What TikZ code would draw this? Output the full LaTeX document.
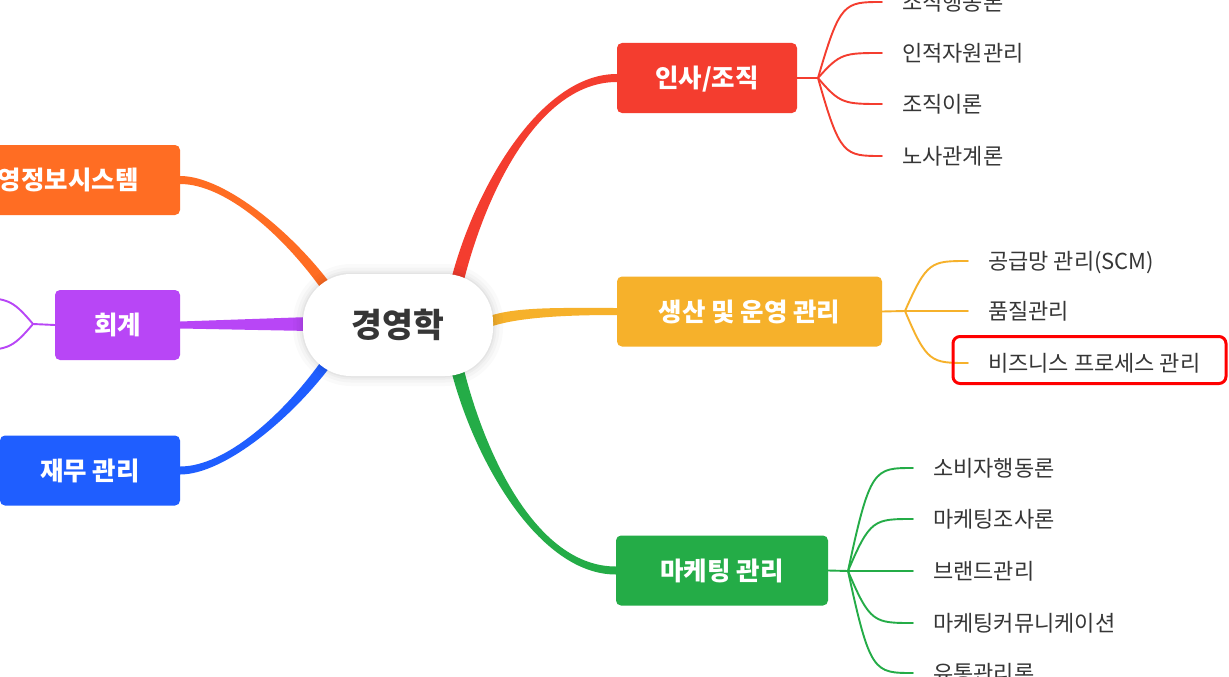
\documentclass[tikz,border=0pt]{standalone}
\usepackage{fontspec}
\setmainfont{Noto Sans CJK KR}
\pgfdeclarelayer{paper}
\pgfdeclarelayer{bg}
\pgfsetlayers{paper,bg,main}
\definecolor{cR}{HTML}{F43D2F}
\definecolor{cY}{HTML}{F6B12B}
\definecolor{cG}{HTML}{24AC47}
\definecolor{cO}{HTML}{FF6D23}
\definecolor{cP}{HTML}{B846F6}
\definecolor{cB}{HTML}{1F5EFF}
\definecolor{txt}{HTML}{363636}
\definecolor{hlred}{HTML}{FF0000}
\begin{document}
\begin{tikzpicture}[x=1pt,y=-1pt,
  box/.style={rounded corners=5pt, text=white, font=\bfseries\fontsize{25.5}{25.5}\selectfont,
    minimum height=70pt, inner sep=0pt, text height=20.4pt, text depth=1.2pt},
  leaf/.style={text=txt, font=\fontsize{22}{22}\selectfont, inner xsep=20pt, inner ysep=0pt,
    anchor=west, text height=17.6pt, text depth=1pt},
  twig/.style={line width=1.9pt, line cap=round},
  glow/.style={preaction={draw=black, draw opacity=#1}},
  centre/.style={fill=white, rounded corners=48pt, minimum width=190pt, minimum height=102pt,
    text=txt, font=\bfseries\fontsize{33.5}{33.5}\selectfont, inner sep=0pt,
    text height=26.8pt, text depth=1.5pt,
    preaction={draw=black, draw opacity=0.018, line width=20pt},
    preaction={draw=black, draw opacity=0.022, line width=13pt},
    preaction={draw=black, draw opacity=0.028, line width=7pt},
    preaction={draw=black, draw opacity=0.035, line width=3pt}},
  ]
\useasboundingbox (0,0) rectangle (1229,677);
\begin{pgfonlayer}{paper}
\fill[white] (0,0) rectangle (1229,677);
\end{pgfonlayer}
\clip (0,0) rectangle (1229,677);

% main branch boxes
\node[box, fill=cR, minimum width=180pt] (r) at (707,78) {인사/조직};
\node[box, fill=cY, minimum width=265pt] (y) at (749.5,311.5) {생산 및 운영 관리};
\node[box, fill=cG, minimum width=212pt] (g) at (722,570.5) {마케팅 관리};
\node[box, fill=cO, minimum width=247pt] (o) at (56.5,180) {경영정보시스템};
\node[box, fill=cP, minimum width=125pt] (p) at (117.5,325) {회계};
\node[box, fill=cB, minimum width=180pt] (b) at (90,470.5) {재무 관리};

% centre
\node[centre] (c) at (398,325) {경영학};

% leaves
\node[leaf] (r1) at (882,2) {조직행동론};
\node[leaf] (r2) at (882,53) {인적자원관리};
\node[leaf] (r3) at (882,104) {조직이론};
\node[leaf] (r4) at (882,156) {노사관계론};

\node[leaf] (y1) at (968,261) {공급망 관리(SCM)};
\node[leaf] (y2) at (968,311) {품질관리};
\node[leaf] (y3) at (968,363) {비즈니스 프로세스 관리};

\node[leaf] (g1) at (913,468) {소비자행동론};
\node[leaf] (g2) at (913,519) {마케팅조사론};
\node[leaf] (g3) at (913,571) {브랜드관리};
\node[leaf] (g4) at (913,623) {마케팅커뮤니케이션};
\node[leaf] (g5) at (913,673) {유통관리론};

\node[draw=hlred, line width=3pt, rounded corners=7pt, minimum width=273pt, minimum height=47pt, inner sep=0pt] (hl) at (1089.5,360) {};

% junctions and branch roots
\coordinate (jr) at (818,78);
\coordinate (jy) at (905,311);
\coordinate (jg) at (848,571);
\coordinate (jp) at (33,324);
\coordinate (p1) at (-31,298);
\coordinate (p2) at (-31,350);
\coordinate (cr) at (457,282);
\coordinate (cg) at (457,368);
\coordinate (cy) at (488,322);
\coordinate (co) at (330,292);
\coordinate (cb) at (330,358);
\coordinate (cp) at (310,324);

\begin{pgfonlayer}{bg}
% tapered main branches
\fill[cR] ([xshift=-6.5pt]cr) .. controls +(23,-92) and +(-77,0) .. ([yshift=4pt]r.west)
  -- ([yshift=-4pt]r.west) .. controls +(-77,0) and +(23,-92) .. ([xshift=6.5pt]cr) -- cycle;
\fill[cG] ([xshift=-6.5pt]cg) .. controls +(23,92) and +(-77,0) .. ([yshift=-4pt]g.west)
  -- ([yshift=4pt]g.west) .. controls +(-77,0) and +(23,92) .. ([xshift=6.5pt]cg) -- cycle;
\fill[cY] ([yshift=5.5pt]cy) .. controls +(28,-10) and +(-55,0) .. ([yshift=3.5pt]y.west)
  -- ([yshift=-3.5pt]y.west) .. controls +(-55,0) and +(28,-10) .. ([yshift=-5.5pt]cy) -- cycle;
\fill[cO] ([xshift=6.5pt]co) .. controls +(-40,-57) and +(45,0) .. ([yshift=4pt]o.east)
  -- ([yshift=-4pt]o.east) .. controls +(45,0) and +(-40,-57) .. ([xshift=-6.5pt]co) -- cycle;
\fill[cB] ([xshift=6.5pt]cb) .. controls +(-40,57) and +(45,0) .. ([yshift=-4pt]b.east)
  -- ([yshift=4pt]b.east) .. controls +(45,0) and +(-40,57) .. ([xshift=-6.5pt]cb) -- cycle;
\fill[cP] ([yshift=7pt]cp) -- ([yshift=3.5pt]p.east) -- ([yshift=-3.5pt]p.east) -- ([yshift=-7pt]cp) -- cycle;

% sub branches
\draw[twig, cR] (r.east) -- (jr);
\foreach \n/\yy in {1/2,2/53,3/104,4/156}
  \draw[twig, cR] (jr) .. controls (840,\yy) and (844,\yy) .. (r\n.west);
\draw[twig, cY] (y.east) -- (jy);
\foreach \n/\yy in {1/261,2/311,3/363}
  \draw[twig, cY] (jy) .. controls (927,\yy) and (931,\yy) .. (y\n.west);
\draw[twig, cG] (g.east) -- (jg);
\foreach \n/\yy in {1/468,2/519,3/571,4/623,5/673}
  \draw[twig, cG] (jg) .. controls (870,\yy) and (874,\yy) .. (g\n.west);
\draw[twig, cP] (p.west) -- (jp);
\draw[twig, cP] (jp) .. controls (11,298) and (7,298) .. (p1);
\draw[twig, cP] (jp) .. controls (11,350) and (7,350) .. (p2);
\end{pgfonlayer}
\end{tikzpicture}
\end{document}
